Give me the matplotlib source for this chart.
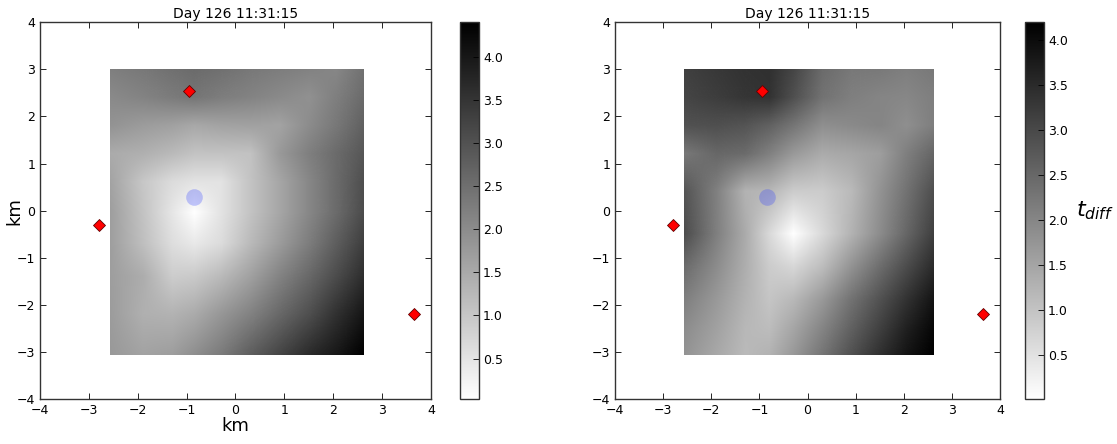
import numpy as np
import matplotlib
matplotlib.use("Agg")
import matplotlib.pyplot as plt
from matplotlib.image import NonUniformImage
from matplotlib.patches import Rectangle

title_text = "Day 126 11:31:15"

# station positions (km)
station_x = [-2.8, -0.95, 3.65]
station_y = [-0.3, 2.55, -2.2]
# located event (km)
event_x = [-0.85]
event_y = [0.3]

# time-difference grid, left panel (rows listed from north to south)
left_x = [-2.57, -1.9, -1.3, -0.85, -0.3, 0.3, 0.9, 1.5, 2.05, 2.6]
left_y = [3.0, 2.4, 1.8, 1.2, 0.6, -0.05, -0.7, -1.4, -2.2, -3.05]
left_t = [
    [2.22, 2.35, 2.48, 2.57, 2.48, 2.35, 2.26, 2.17, 2.08, 2.43],
    [2.04, 2.13, 2.30, 2.39, 2.26, 2.13, 2.04, 1.91, 2.22, 2.56],
    [1.87, 1.73, 1.65, 1.52, 1.60, 1.65, 1.60, 2.00, 2.35, 2.74],
    [1.47, 1.38, 1.21, 1.04, 1.04, 1.08, 1.78, 2.22, 2.56, 2.91],
    [1.60, 0.99, 0.64, 0.51, 0.51, 1.04, 1.56, 2.08, 2.56, 3.05],
    [1.69, 1.04, 0.47, 0.03, 0.51, 1.04, 1.56, 2.08, 2.56, 3.09],
    [1.69, 1.13, 0.60, 0.42, 0.64, 1.21, 1.73, 2.26, 2.78, 3.31],
    [1.69, 1.43, 0.90, 0.95, 1.21, 1.65, 2.13, 2.61, 3.09, 3.61],
    [1.73, 1.38, 1.34, 1.47, 1.82, 2.17, 2.61, 3.05, 3.53, 4.01],
    [1.78, 1.60, 1.69, 1.95, 2.30, 2.78, 3.22, 3.66, 3.97, 4.40],
]

# time-difference grid, right panel (rows listed from north to south)
right_x = [-2.57, -1.9, -1.3, -0.8, -0.3, 0.3, 0.9, 1.5, 2.05, 2.6]
right_y = [3.0, 2.4, 1.8, 1.2, 0.4, -0.5, -1.2, -1.9, -2.5, -3.05]
right_t = [
    [3.15, 3.28, 3.36, 3.40, 3.07, 2.44, 2.23, 2.19, 2.11, 2.19],
    [3.07, 3.19, 3.32, 3.36, 2.90, 2.31, 2.11, 2.02, 1.98, 2.11],
    [2.86, 2.90, 2.82, 2.61, 2.27, 1.85, 1.94, 2.02, 1.85, 2.11],
    [2.23, 2.50, 2.44, 2.10, 1.69, 1.39, 1.48, 1.60, 2.11, 2.52],
    [2.82, 2.10, 1.27, 1.20, 0.85, 0.85, 1.14, 1.77, 2.31, 2.90],
    [2.94, 2.11, 1.39, 0.64, 0.01, 0.64, 1.27, 1.90, 2.52, 3.15],
    [2.44, 1.90, 1.35, 0.85, 0.68, 1.10, 1.77, 2.40, 2.94, 3.49],
    [2.11, 1.69, 1.27, 0.97, 1.18, 1.69, 2.31, 2.86, 3.36, 3.86],
    [1.90, 1.56, 1.18, 1.10, 1.48, 2.02, 2.61, 3.15, 3.66, 4.07],
    [1.77, 1.44, 1.14, 1.27, 1.69, 2.27, 2.86, 3.40, 3.86, 4.20],
]

axis_ticks = [-4, -3, -2, -1, 0, 1, 2, 3, 4]
cbar_ticks = [0.5, 1.0, 1.5, 2.0, 2.5, 3.0, 3.5, 4.0]

plt.rcParams.update({
    "font.family": "DejaVu Sans",
    "xtick.direction": "in",
    "ytick.direction": "in",
    "xtick.top": True,
    "ytick.right": True,
    "xtick.major.size": 4,
    "ytick.major.size": 4,
    "xtick.major.width": 0.6,
    "ytick.major.width": 0.6,
    "xtick.labelsize": 9,
    "ytick.labelsize": 9,
    "axes.linewidth": 1.0,
    "axes.edgecolor": "#333333",
})

fig = plt.figure(figsize=(11.17, 4.44), dpi=100)

panels = [
    (left_x, left_y, left_t, [0.0358, 0.101, 0.350, 0.849], [0.4118, 0.101, 0.0170, 0.849], True),
    (right_x, right_y, right_t, [0.5506, 0.101, 0.3447, 0.849], [0.9176, 0.101, 0.0170, 0.849], False),
]

for gx, gy, gt, ax_rect, cb_rect, labelled in panels:
    ax = fig.add_axes(ax_rect)
    xs = np.asarray(gx, dtype=float)
    ys = np.asarray(gy, dtype=float)[::-1]
    zs = np.asarray(gt, dtype=float)[::-1, :]
    img = NonUniformImage(ax, interpolation="bilinear", cmap="gray_r",
                          extent=(xs[0], xs[-1], ys[0], ys[-1]))
    img.set_data(xs, ys, zs)
    img.set_clim(zs.min(), zs.max())
    ax.add_image(img)
    # keep the shaded field inside the gridded area
    frame = Rectangle((xs[0], ys[0]), xs[-1] - xs[0], ys[-1] - ys[0],
                      transform=ax.transData, facecolor="none", edgecolor="none")
    img.set_clip_path(frame)

    ax.plot(station_x, station_y, linestyle="none", marker="D", markersize=6,
            markerfacecolor="red", markeredgecolor="#600000", markeredgewidth=0.6)
    ax.plot(event_x, event_y, linestyle="none", marker="o", markersize=12,
            markerfacecolor="#3040ff", markeredgecolor="none", alpha=0.28)
    ax.set_xlim(-4, 4)
    ax.set_ylim(-4, 4)
    ax.set_xticks(axis_ticks)
    ax.set_yticks(axis_ticks)
    ax.set_title(title_text, fontsize=10, pad=3)
    if labelled:
        ax.set_xlabel("km", fontsize=13, labelpad=0)
        ax.set_ylabel("km", fontsize=13)
        ax.yaxis.set_label_coords(-0.042, 0.5)

    cax = fig.add_axes(cb_rect)
    cb = fig.colorbar(img, cax=cax, ticks=cbar_ticks)
    cb.outline.set_linewidth(1.0)
    cb.outline.set_edgecolor("#333333")
    cax.tick_params(direction="in", length=4, width=0.6, labelsize=9, pad=3)
    if not labelled:
        cb.set_label(r"$t_{diff}$", rotation=0, fontsize=16, labelpad=6)
        cax.yaxis.label.set_verticalalignment("center")
        cax.yaxis.label.set_horizontalalignment("left")

fig.savefig("out.png", dpi=100, facecolor="white")
